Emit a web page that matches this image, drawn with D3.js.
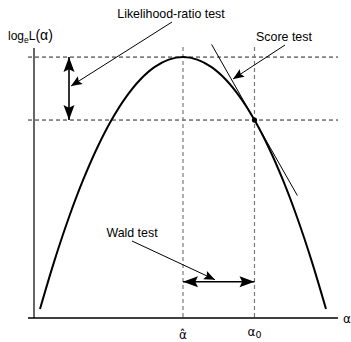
<!DOCTYPE html>
<html>
<head>
<meta charset="utf-8">
<script src="https://cdn.jsdelivr.net/npm/d3@7"></script>
<style>
  html, body { margin: 0; padding: 0; background: #fff; }
  svg { display: block; }
  text { font-family: "Liberation Sans", Arial, sans-serif; fill: #000; }
  text.greek { font-family: "DejaVu Sans", sans-serif; }
</style>
</head>
<body>
<svg id="chart" width="351" height="342"></svg>
<script>
// Log-likelihood curve, sampled along the parameter alpha
const alphaValues = [0, 0.5, 1, 1.5, 2, 2.5, 3, 3.5, 4, 4.5, 5, 5.5, 6, 6.5, 7, 7.5, 8, 8.5, 9, 9.5, 10];
const logLValues  = [-25, -20.25, -16, -12.25, -9, -6.25, -4, -2.25, -1, -0.25, 0, -0.25, -1, -2.25, -4, -6.25, -9, -12.25, -16, -20.25, -25];

// Maximum-likelihood estimate and the hypothesised value
const alphaHat = 5;
const alpha0 = 7.5;
const logLAtHat = 0;
const logLAt0 = -6.25;

// Tangent to the curve at alpha0 (score test)
const tangentAlpha = [6.0, 9.0];
const tangentLogL = [1.25, -13.75];

// Wald-test interval drawn on the alpha axis
const waldLevel = -22.3;

// Annotation labels
const labels = ["Likelihood-ratio test", "Score test", "Wald test"];

const svg = d3.select("#chart");

const x = d3.scaleLinear().domain([-0.42, 10.42]).range([28, 338]);
const y = d3.scaleLinear().domain([-25.9, 0.9]).range([318, 48]);

const axisX = 34;       // vertical axis position
const axisY = 318;      // horizontal axis position
const axisTop = 48;

// Axes
svg.append("line").attr("x1", axisX).attr("x2", axisX).attr("y1", axisTop).attr("y2", axisY)
  .attr("stroke", "#000").attr("stroke-width", 1.2);
svg.append("line").attr("x1", 28).attr("x2", 338).attr("y1", axisY).attr("y2", axisY)
  .attr("stroke", "#000").attr("stroke-width", 1.5);

// Horizontal reference lines at the maximum and at alpha0
[logLAtHat, logLAt0].forEach(v => {
  svg.append("line").attr("x1", 28).attr("x2", 338).attr("y1", y(v)).attr("y2", y(v))
    .attr("stroke", "#222").attr("stroke-width", 1).attr("stroke-dasharray", "4,3");
});

// Vertical reference lines at alpha-hat and alpha0
[alphaHat, alpha0].forEach(v => {
  svg.append("line").attr("x1", x(v)).attr("x2", x(v)).attr("y1", 47).attr("y2", axisY)
    .attr("stroke", "#7a7a7a").attr("stroke-width", 1.2).attr("stroke-dasharray", "4,3");
});

// Log-likelihood curve
const line = d3.line().x(d => x(d[0])).y(d => y(d[1])).curve(d3.curveCatmullRom);
svg.append("path")
  .datum(alphaValues.map((a, i) => [a, logLValues[i]]))
  .attr("d", line).attr("fill", "none").attr("stroke", "#000").attr("stroke-width", 2);

// Tangent line
svg.append("line")
  .attr("x1", x(tangentAlpha[0])).attr("y1", y(tangentLogL[0]))
  .attr("x2", x(tangentAlpha[1])).attr("y2", y(tangentLogL[1]))
  .attr("stroke", "#000").attr("stroke-width", 1);

// Point on the curve at alpha0
svg.append("circle").attr("cx", x(alpha0)).attr("cy", y(logLAt0)).attr("r", 2.6).attr("fill", "#000");

// Filled arrowhead whose tip sits at (x2, y2), pointing away from (x1, y1)
function arrowHead(x1, y1, x2, y2, len, half) {
  const dx = x2 - x1, dy = y2 - y1, d = Math.hypot(dx, dy);
  const ux = dx / d, uy = dy / d;
  const bx = x2 - ux * len, by = y2 - uy * len;
  const px = -uy * half, py = ux * half;
  const nx = x2 - ux * len * 0.82, ny = y2 - uy * len * 0.82;
  svg.append("path")
    .attr("d", `M${x2},${y2}L${bx + px},${by + py}L${nx},${ny}L${bx - px},${by - py}Z`)
    .attr("fill", "#000");
}

function doubleArrow(x1, y1, x2, y2) {
  svg.append("line").attr("x1", x1).attr("y1", y1).attr("x2", x2).attr("y2", y2)
    .attr("stroke", "#000").attr("stroke-width", 1.6);
  arrowHead(x1, y1, x2, y2, 15, 5.5);
  arrowHead(x2, y2, x1, y1, 15, 5.5);
}

function leader(x1, y1, x2, y2) {
  svg.append("line").attr("x1", x1).attr("y1", y1).attr("x2", x2).attr("y2", y2)
    .attr("stroke", "#000").attr("stroke-width", 1);
  arrowHead(x1, y1, x2, y2, 11, 4.5);
}

// Likelihood-ratio test: vertical gap between the two log-likelihoods
const lrX = 69;
doubleArrow(lrX, y(logLAt0), lrX, y(logLAtHat));
svg.append("text").attr("x", 171).attr("y", 18).attr("text-anchor", "middle")
  .style("font-size", "12.4px").text(labels[0]);
leader(172, 22, lrX + 2, 86);

// Score test: slope at alpha0
svg.append("text").attr("x", 284).attr("y", 41).attr("text-anchor", "middle")
  .style("font-size", "12.4px").text(labels[1]);
leader(285, 45, 233, 79);

// Wald test: horizontal gap between alpha-hat and alpha0
doubleArrow(x(alphaHat), y(waldLevel), x(alpha0), y(waldLevel));
svg.append("text").attr("x", 132).attr("y", 237).attr("text-anchor", "middle")
  .style("font-size", "12.4px").text(labels[2]);
leader(132, 241, 215, y(waldLevel) - 2);

// Axis titles
const yTitle = svg.append("text").attr("x", 8).attr("y", 40).style("font-size", "12px");
yTitle.append("tspan").text("log");
yTitle.append("tspan").attr("dy", 3).style("font-size", "8.5px").text("e");
yTitle.append("tspan").attr("dy", -3).text("L");
yTitle.append("tspan").style("font-size", "14px").text("(α)");

svg.append("text").attr("class", "greek").attr("x", 343).attr("y", 323)
  .style("font-size", "12px").text("α");

// Tick labels for alpha-hat and alpha0
svg.append("text").attr("class", "greek").attr("x", x(alphaHat)).attr("y", 339)
  .attr("text-anchor", "middle").style("font-size", "12px").text("α\u0302");
const a0 = svg.append("text").attr("class", "greek").attr("x", x(alpha0)).attr("y", 336)
  .attr("text-anchor", "middle").style("font-size", "12px");
a0.append("tspan").text("α");
a0.append("tspan").attr("dy", 2).style("font-size", "9.5px").text("0");
</script>
</body>
</html>
